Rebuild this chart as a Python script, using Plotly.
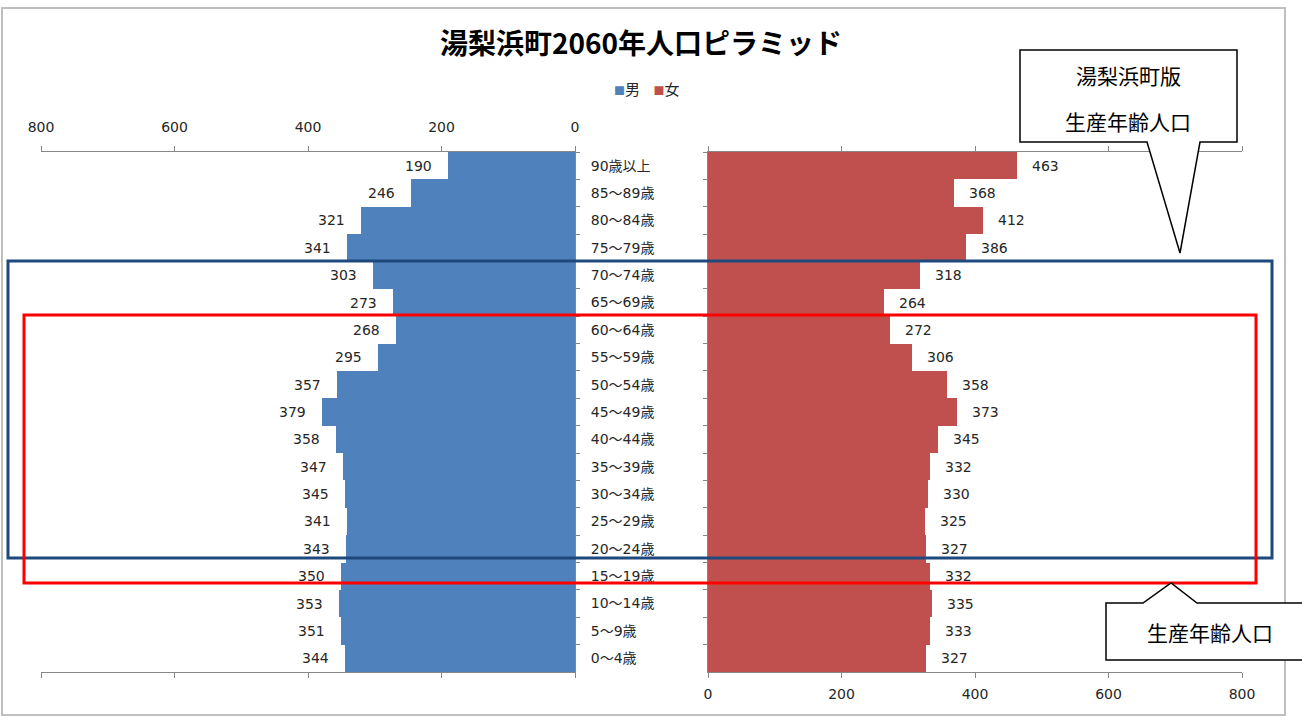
import plotly.graph_objects as go

W, H = 1302, 720

title_text = "湯梨浜町2060年人口ピラミッド"
series_names = ["男", "女"]
categories = ["90歳以上", "85～89歳", "80～84歳", "75～79歳", "70～74歳", "65～69歳",
              "60～64歳", "55～59歳", "50～54歳", "45～49歳", "40～44歳", "35～39歳",
              "30～34歳", "25～29歳", "20～24歳", "15～19歳", "10～14歳", "5～9歳", "0～4歳"]
male = [190, 246, 321, 341, 303, 273, 268, 295, 357, 379, 358, 347, 345, 341, 343, 350, 353, 351, 344]
female = [463, 368, 412, 386, 318, 264, 272, 306, 358, 373, 345, 332, 330, 325, 327, 332, 335, 333, 327]
x_ticks = [0, 200, 400, 600, 800]
callout1_lines = ["湯梨浜町版", "生産年齢人口"]
callout2_text = "生産年齢人口"

MALE_C = "#4F81BD"
FEMALE_C = "#C0504D"
AX_C = "#868686"
TXT_C = "#262626"
NUM_FONT = "DejaVu Sans, Noto Sans CJK JP"
JP_FONT = "Noto Sans CJK JP"


def px(x):
    return x / W


def py(y):
    return 1 - y / H


fig = go.Figure()
fig.add_trace(go.Bar(y=categories, x=male, orientation="h", name=series_names[0],
                     marker=dict(color=MALE_C, line=dict(width=0)),
                     xaxis="x", yaxis="y", hoverinfo="x+y", showlegend=False))
fig.add_trace(go.Bar(y=categories, x=female, orientation="h", name=series_names[1],
                     marker=dict(color=FEMALE_C, line=dict(width=0)),
                     xaxis="x2", yaxis="y2", hoverinfo="x+y", showlegend=False))

annotations = []
for c, v in zip(categories, male):
    annotations.append(dict(x=v, y=c, xref="x", yref="y", text=str(v), showarrow=False,
                            xanchor="right", yanchor="middle", xshift=-14,
                            font=dict(family=NUM_FONT, size=14, color=TXT_C)))
for c, v in zip(categories, female):
    annotations.append(dict(x=v, y=c, xref="x2", yref="y2", text=str(v), showarrow=False,
                            xanchor="left", yanchor="middle", xshift=13,
                            font=dict(family=NUM_FONT, size=14, color=TXT_C)))

# legend (compact, Excel-style)
legend_html = (f"<span style='color:{MALE_C};font-size:11px'>■</span>{series_names[0]}"
               f"&nbsp;&nbsp;&nbsp;&nbsp;<span style='color:{FEMALE_C};font-size:11px'>■</span>{series_names[1]}")
annotations.append(dict(x=px(646), y=py(88), xref="paper", yref="paper", text=legend_html,
                        showarrow=False, xanchor="center", yanchor="middle",
                        font=dict(family=JP_FONT, size=15, color=TXT_C)))

# callout texts
annotations.append(dict(x=px(1128), y=py(75), xref="paper", yref="paper", text=callout1_lines[0],
                        showarrow=False, xanchor="center", yanchor="middle",
                        font=dict(family=JP_FONT, size=21, color="#000")))
annotations.append(dict(x=px(1128), y=py(121), xref="paper", yref="paper", text=callout1_lines[1],
                        showarrow=False, xanchor="center", yanchor="middle",
                        font=dict(family=JP_FONT, size=21, color="#000")))
annotations.append(dict(x=px(1210), y=py(632), xref="paper", yref="paper", text=callout2_text,
                        showarrow=False, xanchor="center", yanchor="middle",
                        font=dict(family=JP_FONT, size=21, color="#000")))


def path(points):
    s = "M " + " L ".join(f"{px(x):.5f},{py(y):.5f}" for x, y in points) + " Z"
    return s


shapes = [
    # outer chart border
    dict(type="rect", xref="paper", yref="paper", x0=px(2), x1=px(1285), y0=py(8), y1=py(715),
         line=dict(color="#BFBFBF", width=2), fillcolor="rgba(0,0,0,0)", layer="below"),
    # blue box
    dict(type="rect", xref="paper", yref="paper", x0=px(8), x1=px(1272), y0=py(261), y1=py(558),
         line=dict(color="#1F497D", width=3), fillcolor="rgba(0,0,0,0)", layer="above"),
    # red box
    dict(type="rect", xref="paper", yref="paper", x0=px(24), x1=px(1256), y0=py(315), y1=py(583),
         line=dict(color="#FF0000", width=3), fillcolor="rgba(0,0,0,0)", layer="above"),
    # callout 1
    dict(type="path", xref="paper", yref="paper",
         path=path([(1020, 50), (1237, 50), (1237, 142), (1200, 142), (1180, 253), (1147, 142), (1020, 142)]),
         line=dict(color="#000000", width=1.5), fillcolor="#FFFFFF", layer="above"),
    # callout 2
    dict(type="path", xref="paper", yref="paper",
         path=path([(1106, 603), (1143, 603), (1171, 583), (1197, 603), (1304, 603), (1304, 660), (1106, 660)]),
         line=dict(color="#000000", width=1.5), fillcolor="#FFFFFF", layer="above"),
]

ydom = [py(672), py(152)]

fig.update_layout(
    width=W, height=H,
    margin=dict(l=0, r=0, t=0, b=0, autoexpand=False),
    paper_bgcolor="white", plot_bgcolor="white",
    bargap=0,
    showlegend=False,
    title=dict(text="<b>" + title_text + "</b>", x=px(641), y=py(44), xanchor="center", yanchor="middle",
               font=dict(family=JP_FONT, size=28, color="#000")),
    xaxis=dict(domain=[px(41), px(575)], range=[800, 0], side="top", anchor="y",
               tickvals=x_ticks, ticktext=[str(t) for t in x_ticks],
               showline=True, linecolor=AX_C, linewidth=1, mirror="ticks",
               ticks="outside", ticklen=5, tickcolor=AX_C, showgrid=False, zeroline=False,
               ticklabelstandoff=8,
               tickfont=dict(family=NUM_FONT, size=14, color=TXT_C)),
    xaxis2=dict(domain=[px(708), px(1242)], range=[0, 800], side="bottom", anchor="y2",
                tickvals=x_ticks, ticktext=[str(t) for t in x_ticks],
                showline=True, linecolor=AX_C, linewidth=1, mirror="ticks",
                ticks="outside", ticklen=5, tickcolor=AX_C, showgrid=False, zeroline=False,
                ticklabelstandoff=4,
                tickfont=dict(family=NUM_FONT, size=14, color=TXT_C)),
    yaxis=dict(domain=ydom, anchor="x", side="right", type="category",
               categoryorder="array", categoryarray=categories, autorange="reversed",
               showline=True, linecolor=AX_C, linewidth=1,
               ticks="outside", ticklen=4, tickcolor=AX_C, tickson="boundaries",
               showgrid=False, zeroline=False, ticklabelstandoff=12,
               tickfont=dict(family=NUM_FONT, size=14, color=TXT_C)),
    yaxis2=dict(domain=ydom, anchor="x2", side="left", type="category", matches="y",
                categoryorder="array", categoryarray=categories, autorange="reversed",
                showline=True, linecolor=AX_C, linewidth=1,
                ticks="outside", ticklen=4, tickcolor=AX_C, tickson="boundaries",
                showgrid=False, zeroline=False, showticklabels=False),
    annotations=annotations,
    shapes=shapes,
)

fig.write_html("out.html")
